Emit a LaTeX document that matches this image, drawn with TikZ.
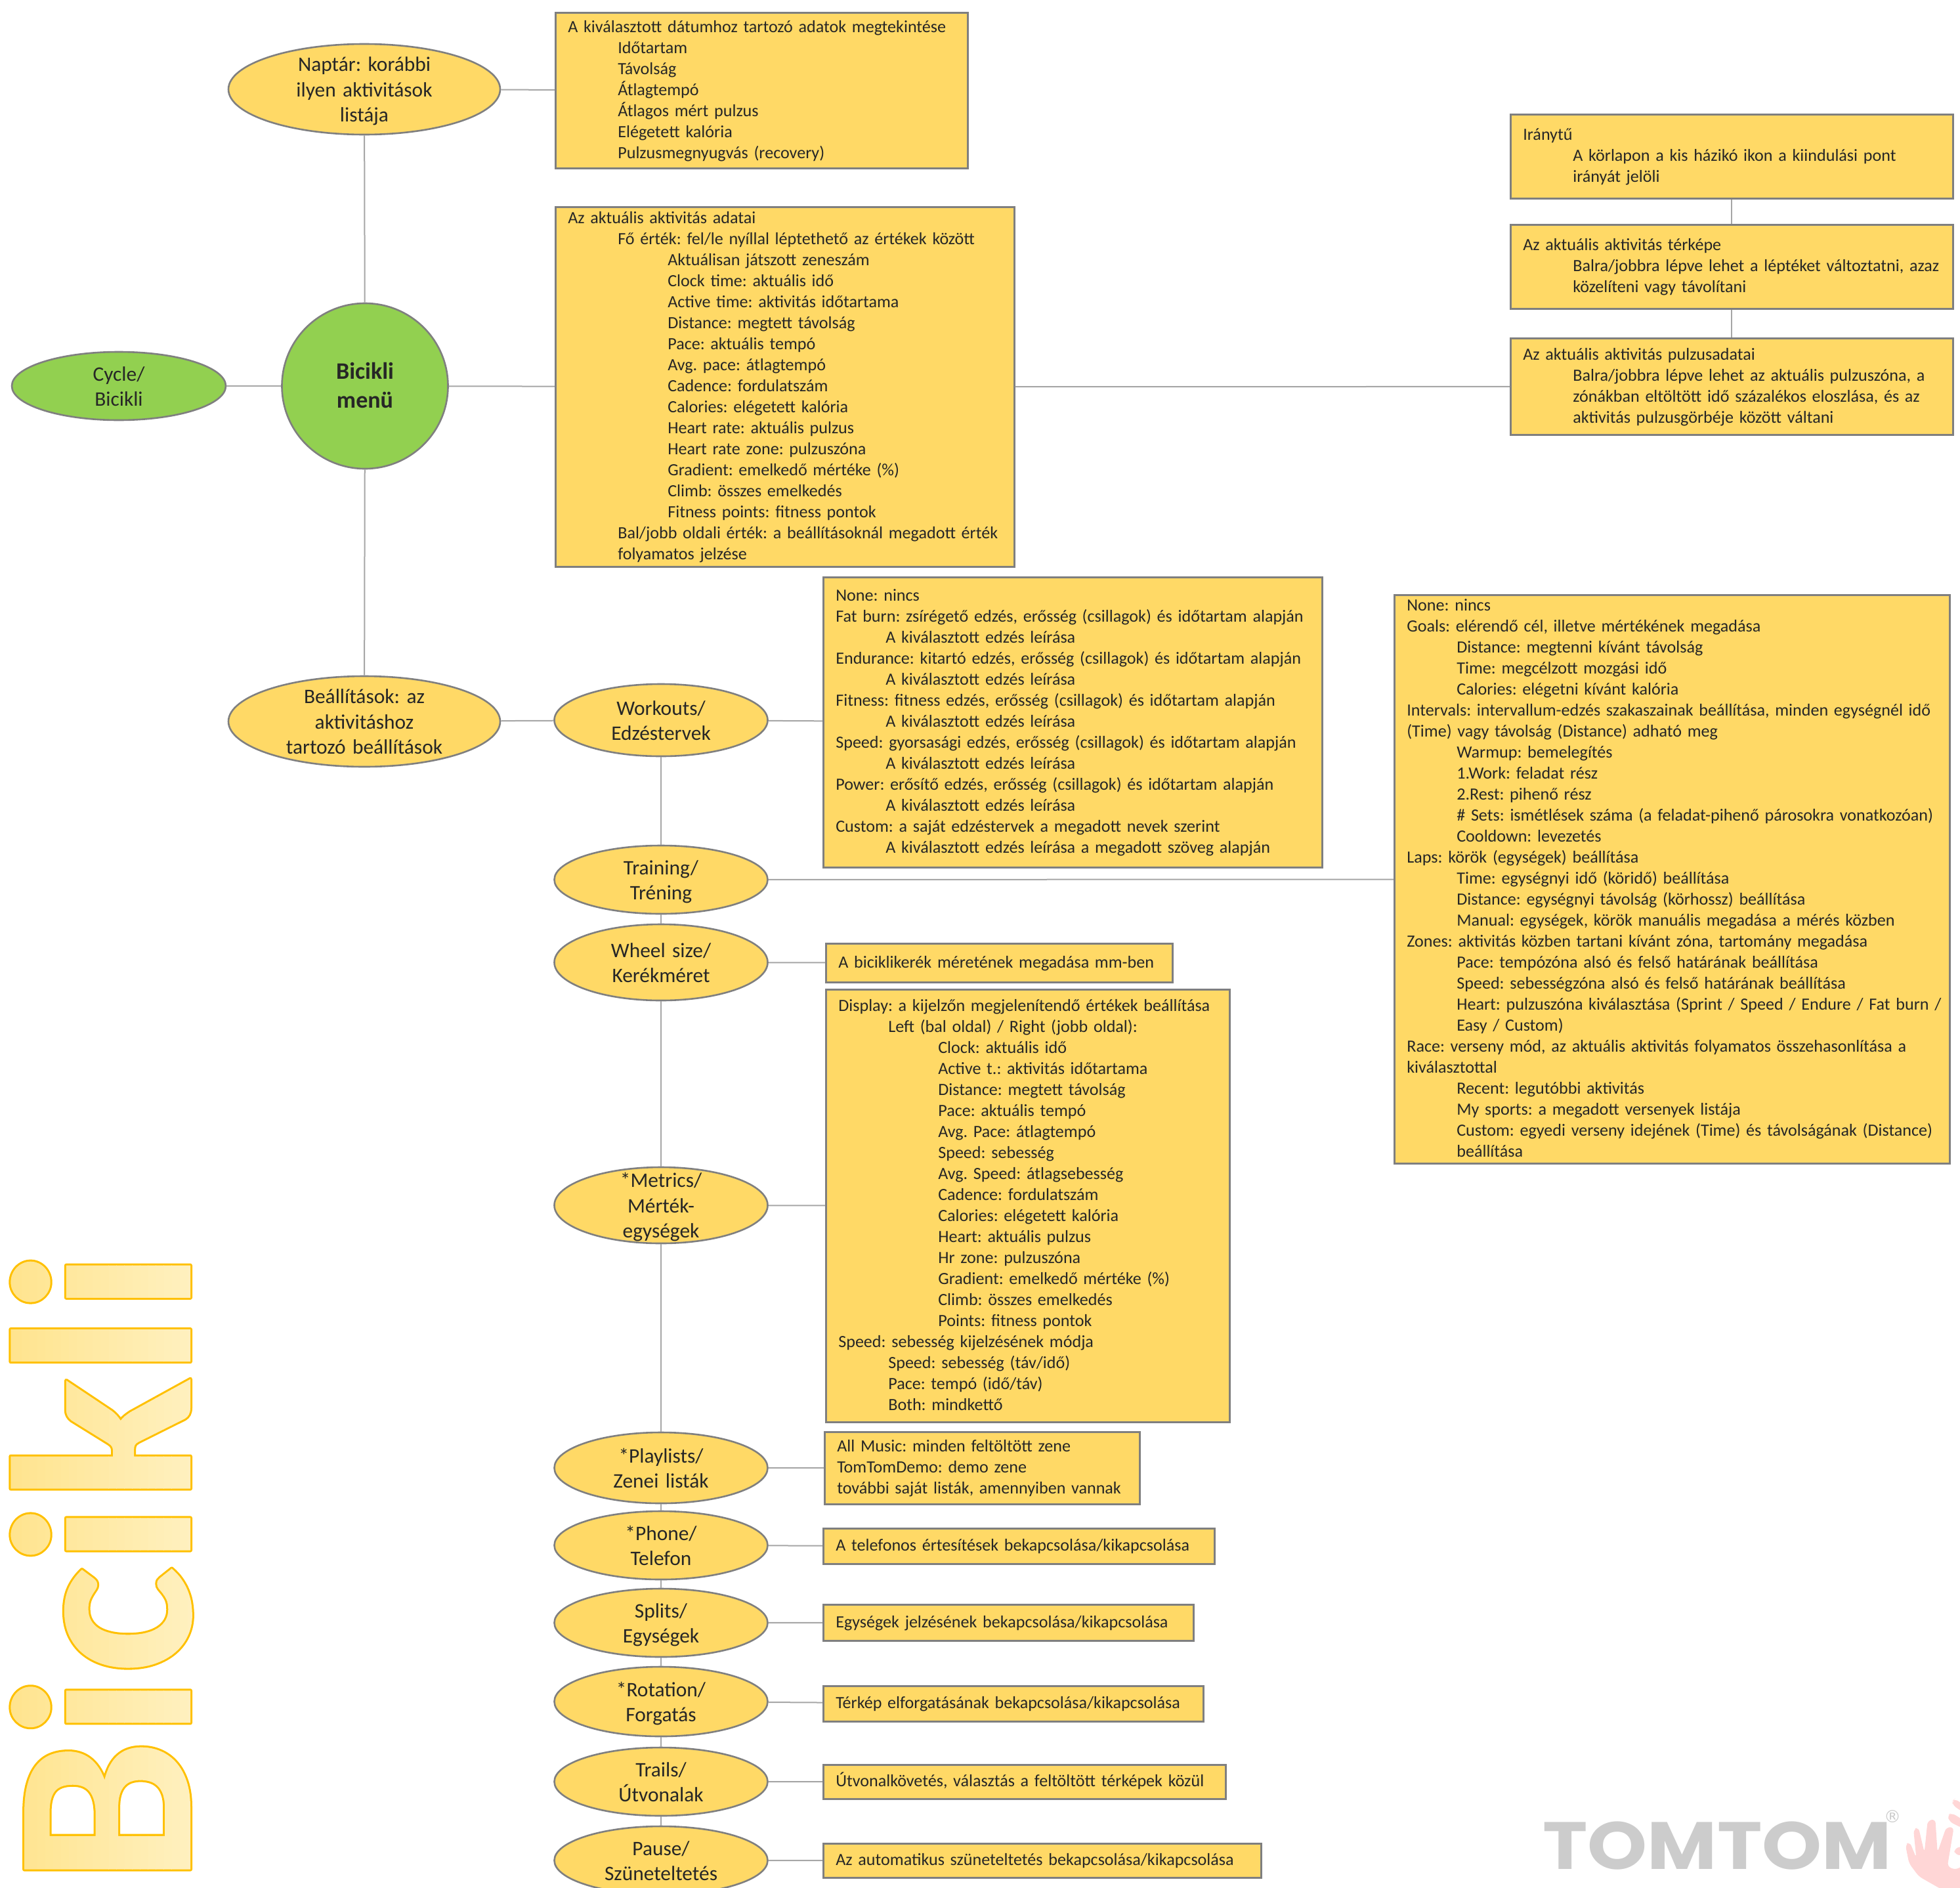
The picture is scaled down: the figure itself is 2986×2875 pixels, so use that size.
\documentclass[tikz,border=0pt]{standalone}
\usepackage{fontspec}
\usetikzlibrary{shapes.geometric}
\setmainfont{Carlito}
\newfontfamily\logofont{Poppins}
\newfontfamily\markfont{DejaVu Sans}
\frenchspacing

\definecolor{boxfill}{HTML}{FFD966}
\definecolor{boxline}{HTML}{7F7F7F}
\definecolor{linkgray}{HTML}{A6A6A6}
\definecolor{menugreen}{HTML}{92D050}
\definecolor{inkdark}{HTML}{262626}
\definecolor{logogray}{HTML}{CCCCCC}
\definecolor{handpink}{HTML}{FFD6D6}

\newcommand{\tabA}{\hspace*{38pt}}
\newcommand{\tabB}{\hspace*{76pt}}

% colour bands that paint the inside of the big title
\def\titlebands{}
\foreach \i in {0,...,29}{%
  \pgfmathsetmacro\bandg{0.945-\i*0.00215}%
  \pgfmathsetmacro\bandb{0.760-\i*0.0086}%
  \pgfmathsetmacro\bandy{\i*6-10}%
  \xdef\titlebands{\titlebands 1 \bandg\space\bandb\space rg -540 \bandy\space 580 6.2 re f }%
}

\begin{document}
\begin{tikzpicture}[
        x=0.5pt,
        y=-0.5pt,
        oval/.style={ellipse, draw=boxline, line width=1.3pt, fill=boxfill, inner sep=-25pt, align=center, text width=130pt,
            text=inkdark, font=\fontsize{15.7}{19.2}\selectfont,
            execute at begin node={\rule{0pt}{15.5pt}}, execute at end node={\rule[-4.3pt]{0pt}{0pt}}},
        greenoval/.style={oval, fill=menugreen},
        ovalsize/.style 2 args={minimum width=#1*0.5pt, minimum height=#2*0.5pt},
        databox/.style={rectangle, draw=boxline, line width=1.3pt, fill=boxfill, anchor=north west, align=left,
            inner xsep=9.5pt, inner ysep=0pt, text=inkdark, font=\fontsize{13.05}{16}\selectfont,
            execute at begin node={\rule{0pt}{11pt}}, execute at end node={\rule[-3.6pt]{0pt}{0pt}}},
        boxsize/.code 2 args={\pgfmathsetmacro\boxw{(#1-38)/2}\pgfmathsetmacro\boxh{#2/2}%
            \tikzset{text width=\boxw pt, minimum height=\boxh pt}},
        link/.style={draw=linkgray, line width=1pt}
    ]
    \clip (0,0) rectangle (2986,2875);

    % Big title
    \node[rotate=90, xscale=1.015, anchor=base west, inner sep=0pt, font=\fontsize{195}{195}\selectfont\bfseries] (title) at (290,2871)
        {\special{pdf:code 1 0.753 0 RG 3 w 1 j 5 Tr}Bicikli\special{pdf:content \titlebands}\special{pdf:code 0 Tr}};

    % Logo
    \node[anchor=base west, inner sep=0pt, xscale=1.135, text=logogray, font=\logofont\bfseries\fontsize{51}{51}\selectfont] (logo) at (2350,2847) {TOMTOM};
    \node[inner sep=0pt, text=logogray, font=\markfont\fontsize{13}{13}\selectfont] (mark) at (2883,2767) {®};
    \begin{scope}[shift={(2880,2715)}, x=0.1667pt, y=-0.1667pt]
        \fill[handpink, rounded corners=3pt] (68,285) -- (88,272) -- (118,345) -- (105,215) -- (128,205) -- (155,320) -- (170,175) -- (205,168) -- (215,320)
            -- (255,205) -- (290,205) -- (260,385) -- (300,400) -- (330,380) -- (330,490) -- (235,490) -- (130,430) -- (85,370) -- cycle;
        \fill[handpink, rounded corners=3pt] (260,150) -- (280,140) -- (330,170) -- (330,210) -- (270,180) -- cycle;
        \fill[handpink, rounded corners=3pt] (282,85) -- (295,75) -- (330,100) -- (330,135) -- (285,105) -- cycle;
        \fill[handpink, rounded corners=3pt] (290,305) -- (330,290) -- (330,335) -- (295,330) -- cycle;
    \end{scope}

    % Main ellipses
    \node[greenoval, ovalsize={253}{252}, font=\fontsize{18}{22.2}\selectfont\bfseries] (menu) at (556,588) {Bicikli\\menü};
    \node[greenoval, ovalsize={326}{104}] (cycle) at (181,588) {Cycle/\\Bicikli};
    \node[oval, ovalsize={414}{138}] (calendar) at (555,136) {Naptár: korábbi\\ilyen aktivitások\\listája};
    \node[oval, ovalsize={414}{138}] (settings) at (555,1099) {Beállítások: az\\aktivitáshoz\\tartozó beállítások};

    % Settings ellipses
    \node[oval, ovalsize={325}{110}] (workouts) at (1007,1097) {Workouts/\\Edzéstervek};
    \node[oval, ovalsize={325}{104}] (training) at (1007,1340) {Training/\\Tréning};
    \node[oval, ovalsize={325}{116}] (wheel) at (1007,1466) {Wheel size/\\Kerékméret};
    \node[oval, ovalsize={325}{116}] (metrics) at (1007,1836) {*Metrics/\\Mérték-\\egységek};
    \node[oval, ovalsize={325}{108}] (playlists) at (1007,2236) {*Playlists/\\Zenei listák};
    \node[oval, ovalsize={325}{104}] (phone) at (1007,2354) {*Phone/\\Telefon};
    \node[oval, ovalsize={325}{104}] (splits) at (1007,2472) {Splits/\\Egységek};
    \node[oval, ovalsize={325}{106}] (rotation) at (1007,2592) {*Rotation/\\Forgatás};
    \node[oval, ovalsize={325}{104}] (trails) at (1007,2714) {Trails/\\Útvonalak};
    \node[oval, ovalsize={325}{104}] (pause) at (1007,2834) {Pause/\\Szüneteltetés};

    % Text boxes
    \node[databox, boxsize={628}{237}] (calbox) at (845,18) {A kiválasztott dátumhoz tartozó adatok megtekintése\\
        \tabA Időtartam\\ \tabA Távolság\\ \tabA Átlagtempó\\ \tabA Átlagos mért pulzus\\ \tabA Elégetett kalória\\ \tabA Pulzusmegnyugvás (recovery)};
    \node[databox, boxsize={699}{548}] (currentbox) at (845,314) {Az aktuális aktivitás adatai\\
        \tabA Fő érték: fel/le nyíllal léptethető az értékek között\\
        \tabB Aktuálisan játszott zeneszám\\
        \tabB Clock time: aktuális idő\\
        \tabB Active time: aktivitás időtartama\\
        \tabB Distance: megtett távolság\\
        \tabB Pace: aktuális tempó\\
        \tabB Avg. pace: átlagtempó\\
        \tabB Cadence: fordulatszám\\
        \tabB Calories: elégetett kalória\\
        \tabB Heart rate: aktuális pulzus\\
        \tabB Heart rate zone: pulzuszóna\\
        \tabB Gradient: emelkedő mértéke (\%)\\
        \tabB Climb: összes emelkedés\\
        \tabB Fitness points: fitness pontok\\
        \tabA Bal/jobb oldali érték: a beállításoknál megadott érték\\
        \tabA folyamatos jelzése};
    \node[databox, boxsize={674}{128}] (compassbox) at (2300,173) {Iránytű\\
        \tabA A körlapon a kis házikó ikon a kiindulási pont\\ \tabA irányát jelöli};
    \node[databox, boxsize={674}{128}] (mapbox) at (2300,341) {Az aktuális aktivitás térképe\\
        \mbox{\tabA Balra/jobbra lépve lehet a léptéket változtatni, azaz}\\ \tabA közelíteni vagy távolítani};
    \node[databox, boxsize={674}{147}] (pulsebox) at (2300,514) {Az aktuális aktivitás pulzusadatai\\
        \tabA Balra/jobbra lépve lehet az aktuális pulzuszóna, a\\
        \tabA zónákban eltöltött idő százalékos eloszlása, és az\\
        \tabA aktivitás pulzusgörbéje között váltani};
    \node[databox, boxsize={760}{442}] (workbox) at (1253,878) {None: nincs\\
        Fat burn: zsírégető edzés, erősség (csillagok) és időtartam alapján\\
        \tabA A kiválasztott edzés leírása\\
        Endurance: kitartó edzés, erősség (csillagok) és időtartam alapján\\
        \tabA A kiválasztott edzés leírása\\
        Fitness: fitness edzés, erősség (csillagok) és időtartam alapján\\
        \tabA A kiválasztott edzés leírása\\
        Speed: gyorsasági edzés, erősség (csillagok) és időtartam alapján\\
        \tabA A kiválasztott edzés leírása\\
        Power: erősítő edzés, erősség (csillagok) és időtartam alapján\\
        \tabA A kiválasztott edzés leírása\\
        Custom: a saját edzéstervek a megadott nevek szerint\\
        \tabA A kiválasztott edzés leírása a megadott szöveg alapján};
    \node[databox, boxsize={846}{866}] (trainbox) at (2123,905) {None: nincs\\
        Goals: elérendő cél, illetve mértékének megadása\\
        \tabA Distance: megtenni kívánt távolság\\
        \tabA Time: megcélzott mozgási idő\\
        \tabA Calories: elégetni kívánt kalória\\
        Intervals: intervallum-edzés szakaszainak beállítása, minden egységnél idő\\
        (Time) vagy távolság (Distance) adható meg\\
        \tabA Warmup: bemelegítés\\
        \tabA 1.Work: feladat rész\\
        \tabA 2.Rest: pihenő rész\\
        \mbox{\tabA \# Sets: ismétlések száma (a feladat-pihenő párosokra vonatkozóan)}\\
        \tabA Cooldown: levezetés\\
        Laps: körök (egységek) beállítása\\
        \tabA Time: egységnyi idő (köridő) beállítása\\
        \tabA Distance: egységnyi távolság (körhossz) beállítása\\
        \tabA Manual: egységek, körök manuális megadása a mérés közben\\
        Zones: aktivitás közben tartani kívánt zóna, tartomány megadása\\
        \tabA Pace: tempózóna alsó és felső határának beállítása\\
        \tabA Speed: sebességzóna alsó és felső határának beállítása\\
        \mbox{\tabA Heart: pulzuszóna kiválasztása (Sprint / Speed / Endure / Fat burn /}\\
        \tabA Easy / Custom)\\
        Race: verseny mód, az aktuális aktivitás folyamatos összehasonlítása a\\
        kiválasztottal\\
        \tabA Recent: legutóbbi aktivitás\\
        \tabA My sports: a megadott versenyek listája\\
        \mbox{\tabA Custom: egyedi verseny idejének (Time) és távolságának (Distance)}\\
        \tabA beállítása};
    \node[databox, boxsize={528}{59}] (wheelbox) at (1257,1436) {A biciklikerék méretének megadása mm-ben};
    \node[databox, boxsize={615}{659}] (metricbox) at (1257,1506) {Display: a kijelzőn megjelenítendő értékek beállítása\\
        \tabA Left (bal oldal) / Right (jobb oldal):\\
        \tabB Clock: aktuális idő\\
        \tabB Active t.: aktivitás időtartama\\
        \tabB Distance: megtett távolság\\
        \tabB Pace: aktuális tempó\\
        \tabB Avg. Pace: átlagtempó\\
        \tabB Speed: sebesség\\
        \tabB Avg. Speed: átlagsebesség\\
        \tabB Cadence: fordulatszám\\
        \tabB Calories: elégetett kalória\\
        \tabB Heart: aktuális pulzus\\
        \tabB Hr zone: pulzuszóna\\
        \tabB Gradient: emelkedő mértéke (\%)\\
        \tabB Climb: összes emelkedés\\
        \tabB Points: fitness pontok\\
        Speed: sebesség kijelzésének módja\\
        \tabA Speed: sebesség (táv/idő)\\
        \tabA Pace: tempó (idő/táv)\\
        \tabA Both: mindkettő};
    \node[databox, boxsize={480}{110}] (playbox) at (1255,2180) {All Music: minden feltöltött zene\\
        TomTomDemo: demo zene\\ további saját listák, amennyiben vannak};
    \node[databox, boxsize={596}{54}] (phonebox) at (1253,2327) {A telefonos értesítések bekapcsolása/kikapcsolása};
    \node[databox, boxsize={564}{55}] (splitbox) at (1253,2443) {Egységek jelzésének bekapcsolása/kikapcsolása};
    \node[databox, boxsize={579}{54}] (rotatebox) at (1253,2567) {Térkép elforgatásának bekapcsolása/kikapcsolása};
    \node[databox, boxsize={613}{52}] (trailbox) at (1253,2687) {Útvonalkövetés, választás a feltöltött térképek közül};
    \node[databox, boxsize={667}{52}] (pausebox) at (1253,2807) {Az automatikus szüneteltetés bekapcsolása/kikapcsolása};

    % Connections around the menu
    \draw[link] (calendar) -- (menu);
    \draw[link] (calendar) -- (calbox);
    \draw[link] (cycle) -- (menu);
    \draw[link] (menu) -- (currentbox);
    \draw[link] (menu) -- (settings);
    \draw[link] (currentbox) -- (pulsebox);
    \draw[link] (compassbox) -- (mapbox);
    \draw[link] (mapbox) -- (pulsebox);

    % Settings chain
    \draw[link] (settings) -- (workouts);
    \draw[link] (workouts) -- (training);
    \draw[link] (training) -- (wheel);
    \draw[link] (wheel) -- (metrics);
    \draw[link] (metrics) -- (playlists);
    \draw[link] (playlists) -- (phone);
    \draw[link] (phone) -- (splits);
    \draw[link] (splits) -- (rotation);
    \draw[link] (rotation) -- (trails);
    \draw[link] (trails) -- (pause);

    % Ellipse to box
    \draw[link] (workouts) -- (workbox);
    \draw[link] (training) -- (trainbox);
    \draw[link] (wheel) -- (wheelbox);
    \draw[link] (metrics) -- (metricbox);
    \draw[link] (playlists) -- (playbox);
    \draw[link] (phone) -- (phonebox);
    \draw[link] (splits) -- (splitbox);
    \draw[link] (rotation) -- (rotatebox);
    \draw[link] (trails) -- (trailbox);
    \draw[link] (pause) -- (pausebox);
\end{tikzpicture}
\end{document}
